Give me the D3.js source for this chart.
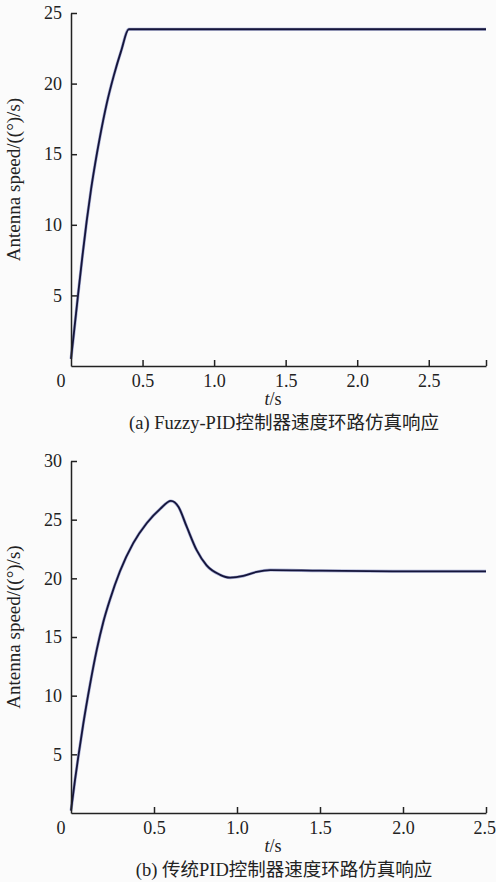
<!DOCTYPE html>
<meta charset="utf-8">
<head>
    <title>Antenna speed loop response</title>
    <script src="https://cdn.jsdelivr.net/npm/d3@7"></script>
    <style>
        body { margin: 0; background: #fbfbfb; }
        text { font-family: "Liberation Serif", "Noto Sans CJK SC", serif; fill: #222; }
    </style>
</head>
<body>
<script>
    // (a) Fuzzy-PID response
    const fuzzyT = [0, 0.02, 0.05, 0.08, 0.11, 0.14, 0.17, 0.20, 0.25, 0.30, 0.35, 0.404, 1.0, 2.0, 2.9]
    const fuzzyV = [0.5, 2.3, 5.1, 7.8, 10.3, 12.5, 14.4, 16.1, 18.6, 20.6, 22.3, 23.85, 23.85, 23.85, 23.85]

    // (b) conventional PID response
    const pidT = [0, 0.024, 0.044, 0.074, 0.114, 0.155, 0.195, 0.235, 0.295, 0.375, 0.456, 0.536, 0.602, 0.647, 0.697, 0.757, 0.817, 0.898, 0.958, 1.038, 1.119, 1.2, 1.5, 2.0, 2.5]
    const pidV = [0.2, 2.8, 4.8, 7.6, 10.9, 13.9, 16.3, 18.2, 20.6, 23.0, 24.7, 25.9, 26.6, 26.1, 24.4, 22.4, 21.1, 20.3, 20.06, 20.2, 20.55, 20.7, 20.65, 20.6, 20.6]

    const xTicksA = [0.5, 1.0, 1.5, 2.0, 2.5]
    const yTicksA = [5, 10, 15, 20, 25]
    const xTicksB = [0.5, 1.0, 1.5, 2.0, 2.5]
    const yTicksB = [5, 10, 15, 20, 25, 30]

    const yLabel = "Antenna speed/((°)/s)"
    const captionA = "(a) Fuzzy-PID控制器速度环路仿真响应"
    const captionB = "(b) 传统PID控制器速度环路仿真响应"

    const w = 496, h = 882
    let svg = d3.select("body").append("svg")
        .attr("width", w)
        .attr("height", h)

    function panel(cfg) {
        let g = svg.append("g")
        let x = d3.scaleLinear().domain(cfg.xDomain).range([cfg.left, cfg.right])
        let y = d3.scaleLinear().domain(cfg.yDomain).range([cfg.bottom, cfg.top])

        // the curve
        let data = cfg.t.map((t, i) => [t, cfg.v[i]])
        let line = d3.line()
            .x(d => x(d[0]))
            .y(d => y(d[1]))
            .curve(d3.curveMonotoneX)
        g.append("path")
            .datum(data)
            .attr("d", line)
            .attr("fill", "none")
            .attr("stroke", "#3a46a0")
            .attr("stroke-width", 3)
            .attr("opacity", 0.45)
        g.append("path")
            .datum(data)
            .attr("d", line)
            .attr("fill", "none")
            .attr("stroke", "#15153a")
            .attr("stroke-width", 1.8)

        // axes, ticks point inward
        let xAxis = d3.axisBottom(x)
            .tickValues(cfg.xTicks.concat(cfg.extraTick ? [cfg.xDomain[1]] : []))
            .tickFormat(d => (cfg.xTicks.includes(d) ? d3.format(".1f")(d) : ""))
            .tickSizeInner(-6)
            .tickSizeOuter(0)
            .tickPadding(8)
        let yAxis = d3.axisLeft(y)
            .tickValues(cfg.yTicks)
            .tickFormat(d3.format("d"))
            .tickSizeInner(-6)
            .tickSizeOuter(0)
            .tickPadding(9)

        let gx = g.append("g").attr("transform", "translate(0," + cfg.bottom + ")").call(xAxis)
        g.append("g").attr("transform", "translate(" + cfg.left + ",0)").call(yAxis)
        svg.selectAll(".domain, .tick line").attr("stroke", "#222").attr("stroke-width", 1.5)
        svg.selectAll(".tick text").attr("font-size", 18).attr("fill", "#222")
            .style("font-family", "'Liberation Serif', serif")
        // keep a label sitting on the right edge inside the page
        gx.selectAll(".tick text")
            .filter(d => x(d) > w - 14)
            .attr("text-anchor", "end")
            .attr("x", w - x.range()[1] - 0.5)

        // the lone 0 at the corner
        g.append("text")
            .attr("x", cfg.left - 10)
            .attr("y", cfg.bottom + 21)
            .attr("text-anchor", "middle")
            .attr("font-size", 18)
            .text("0")

        // axis titles
        let xt = g.append("text")
            .attr("x", cfg.xLabelX)
            .attr("y", cfg.bottom + 39)
            .attr("text-anchor", "middle")
            .attr("font-size", 18)
        xt.append("tspan").attr("font-style", "italic").text("t")
        xt.append("tspan").text("/s")

        g.append("text")
            .attr("transform", "translate(" + 20 + "," + ((cfg.top + cfg.bottom) / 2 - 10) + ") rotate(-90)")
            .attr("text-anchor", "middle")
            .attr("font-size", 19)
            .text(yLabel)

        g.append("text")
            .attr("x", 284)
            .attr("y", cfg.bottom + 63)
            .attr("text-anchor", "middle")
            .attr("font-size", 18.5)
            .text(cfg.caption)
    }

    panel({ t: fuzzyT, v: fuzzyV, xDomain: [0, 2.9], yDomain: [0, 25],
        left: 71, right: 486, top: 13, bottom: 366,
        xTicks: xTicksA, yTicks: yTicksA, extraTick: true, xLabelX: 273, caption: captionA })

    panel({ t: pidT, v: pidV, xDomain: [0, 2.5], yDomain: [0, 30],
        left: 71, right: 486, top: 461, bottom: 813,
        xTicks: xTicksB, yTicks: yTicksB, extraTick: false, xLabelX: 273, caption: captionB })
</script>
</body>
</html>
